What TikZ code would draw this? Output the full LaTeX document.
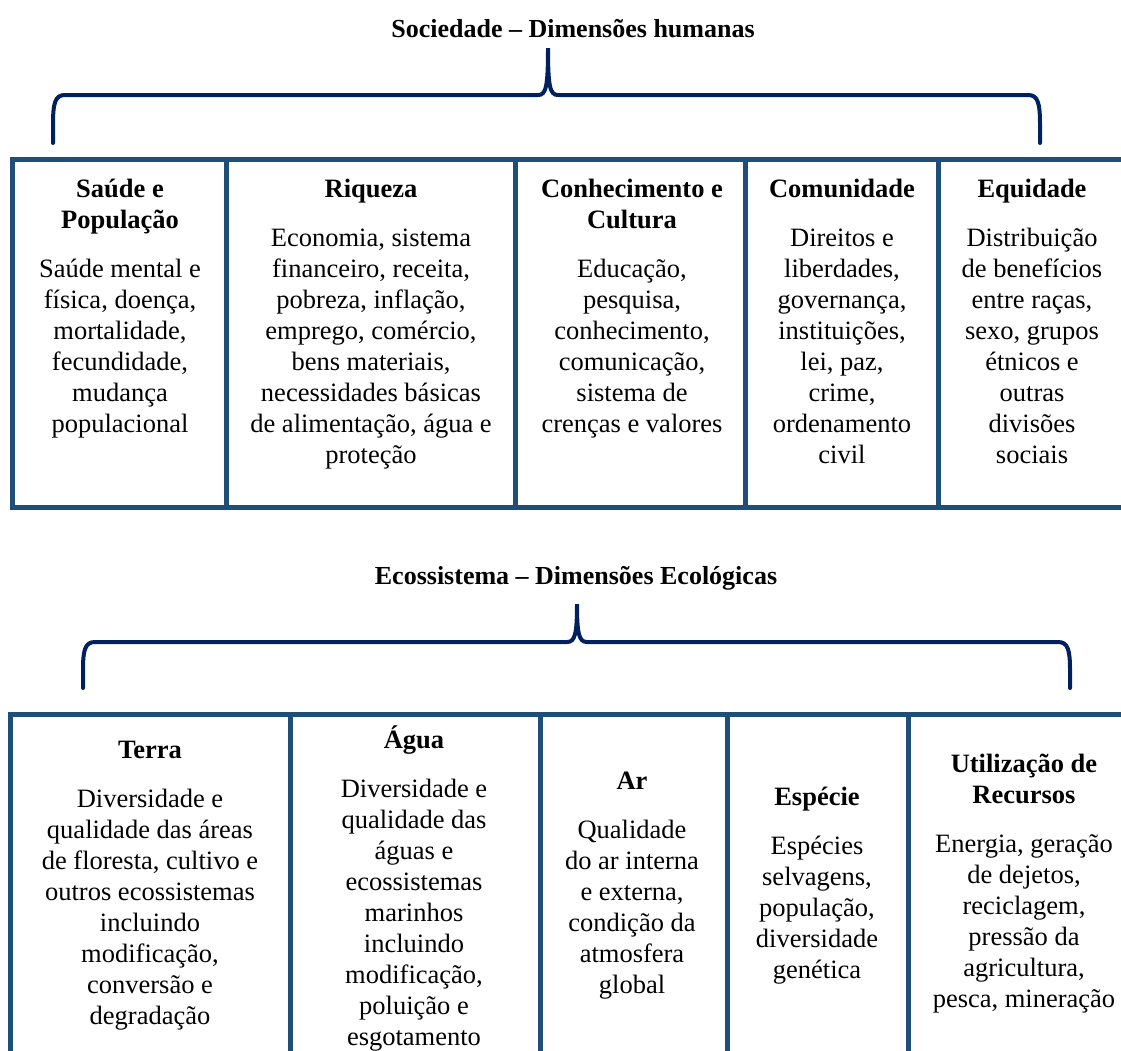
\documentclass[tikz,border=0pt]{standalone}
\usepackage{fontspec}
\setmainfont{Liberation Serif}
\usetikzlibrary{positioning}
\definecolor{cellblue}{HTML}{1F4E79}
\definecolor{bracenavy}{HTML}{002060}
\newcommand{\tstrut}{\rule{0pt}{25pt}}

\begin{document}
\begin{tikzpicture}[x=1pt, y=-1pt,
		cell/.style={draw=cellblue, line width=5pt},
		brace/.style={draw=bracenavy, line width=4pt, line cap=round},
		heading/.style={font=\bfseries\fontsize{26}{30}\selectfont, inner sep=0pt, anchor=base},
		celltext/.style={align=center, inner sep=0pt, anchor=north,
			font=\fontsize{26.5}{31}\selectfont},
		]
		\useasboundingbox (0,0) rectangle (1121,1050);
		
		% Sociedade
		\node[heading] (soc) at (573,37) {Sociedade – Dimensões humanas};
		\draw[brace] (53,143) -- (53,125) .. controls (53,103) and (55,95) .. (65,95)
			-- (538,95) .. controls (546,95) and (548,87) .. (548,48)
			.. controls (548,87) and (550,95) .. (558,95)
			-- (1028,95) .. controls (1038,95) and (1040,103) .. (1040,125) -- (1040,143);
		
		\foreach \xa/\xb in {12/226, 226/515, 515/745, 745/938, 938/1135}
			\draw[cell] (\xa,159) rectangle (\xb,507);
		
		\node[celltext] (saude) at (120,172) {\tstrut\textbf{Saúde e}\\\textbf{População}\\[18pt]
			Saúde mental e\\física, doença,\\mortalidade,\\fecundidade,\\mudança\\populacional};
		\node[celltext] (riqueza) at (371,172) {\tstrut\textbf{Riqueza}\\[18pt]
			Economia, sistema\\financeiro, receita,\\pobreza, inflação,\\emprego, comércio,\\bens materiais,\\necessidades básicas\\de alimentação, água e\\proteção};
		\node[celltext] (cultura) at (632,172) {\tstrut\textbf{Conhecimento e}\\\textbf{Cultura}\\[18pt]
			Educação,\\pesquisa,\\conhecimento,\\comunicação,\\sistema de\\crenças e valores};
		\node[celltext] (comunidade) at (842,172) {\tstrut\textbf{Comunidade}\\[18pt]
			Direitos e\\liberdades,\\governança,\\instituições,\\lei, paz,\\crime,\\ordenamento\\civil};
		\node[celltext] (equidade) at (1032,172) {\tstrut\textbf{Equidade}\\[18pt]
			Distribuição\\de benefícios\\entre raças,\\sexo, grupos\\étnicos e\\outras\\divisões\\sociais};
		
		% Ecossistema
		\node[heading] (eco) at (576,584) {Ecossistema – Dimensões Ecológicas};
		\draw[brace] (83,688) -- (83,670) .. controls (83,650) and (85,642) .. (95,642)
			-- (567,642) .. controls (575,642) and (577,634) .. (577,604)
			.. controls (577,634) and (579,642) .. (587,642)
			-- (1058,642) .. controls (1068,642) and (1070,650) .. (1070,670) -- (1070,688);
		
		\foreach \xa/\xb in {10/290, 290/540, 540/727, 727/908, 908/1135}
			\draw[cell] (\xa,714) rectangle (\xb,1065);
		
		\node[celltext] (terra) at (150,733) {\tstrut\textbf{Terra}\\[18pt]
			Diversidade e\\qualidade das áreas\\de floresta, cultivo e\\outros ecossistemas\\incluindo\\modificação,\\conversão e\\degradação};
		\node[celltext] (agua) at (414,723) {\tstrut\textbf{Água}\\[18pt]
			Diversidade e\\qualidade das\\águas e\\ecossistemas\\marinhos\\incluindo\\modificação,\\poluição e\\esgotamento};
		\node[celltext] (ar) at (632,764) {\tstrut\textbf{Ar}\\[18pt]
			Qualidade\\do ar interna\\e externa,\\condição da\\atmosfera\\global};
		\node[celltext] (especie) at (817,780) {\tstrut\textbf{Espécie}\\[18pt]
			Espécies\\selvagens,\\população,\\diversidade\\genética};
		\node[celltext] (recursos) at (1024,747) {\tstrut\textbf{Utilização de}\\\textbf{Recursos}\\[18pt]
			Energia, geração\\de dejetos,\\reciclagem,\\pressão da\\agricultura,\\pesca, mineração};
		
	\end{tikzpicture}
\end{document}
